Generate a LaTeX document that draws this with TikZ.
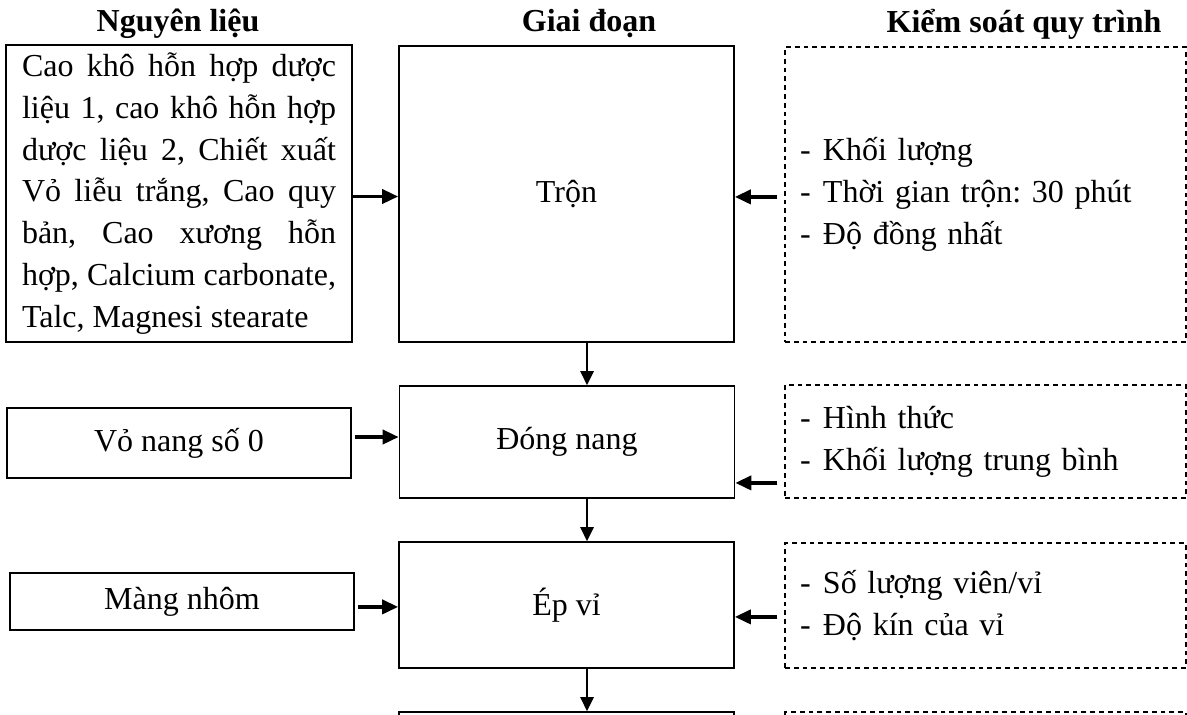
\documentclass[tikz,border=0pt]{standalone}
\usepackage{fontspec}
\setmainfont{Liberation Serif}
\usepackage{tikz}
\usetikzlibrary{arrows.meta,positioning}
\hyphenpenalty=10000
\exhyphenpenalty=10000
\frenchspacing
\newcommand\ksdash{\makebox[11.5pt][l]{-}}
\begin{document}
\begin{tikzpicture}[x=0.5pt,y=-0.5pt]
\tikzstyle{every node}+=[font=\fontsize{16pt}{20.85pt}\selectfont]
\tikzstyle{hdr}=[font=\fontsize{16pt}{20pt}\selectfont\bfseries]
\tikzstyle{stagebox}=[draw,line width=0.8pt,minimum width=167.5pt]
\tikzstyle{inbox}=[draw,line width=0.8pt,minimum width=172pt]
\tikzstyle{ctrlbox}=[draw,line width=0.6pt,dash pattern=on 2.4pt off 2pt,text width=185.5pt,inner xsep=7.5pt,align=left]
\tikzstyle{harr}=[line width=1.8pt,-{Triangle[length=8pt,width=7pt]}]
\tikzstyle{varr}=[line width=1.3pt,-{Triangle[length=7pt,width=6.5pt]}]
\clip (0,0) rectangle (1187,714);
\node[hdr] (hnl) at (178,24) {Nguyên liệu};
\node[hdr] (hgd) at (589,24) {Giai đoạn};
\node[hdr] (hks) at (1024,24) {Kiểm soát quy trình};
\node[inbox,text width=157pt,inner xsep=8pt,align=justify,minimum height=148.5pt] (nl1) at (179,193.5)
  {Cao khô hỗn hợp dược\linebreak liệu 1, cao khô hỗn hợp\linebreak dược liệu 2, Chiết xuất\linebreak Vỏ liễu trắng, Cao quy\linebreak bản, Cao xương hỗn\linebreak hợp, Calcium carbonate,\linebreak Talc, Magnesi stearate};
\node[inbox,minimum height=35pt] (vn) at (179,443) {Vỏ nang số 0};
\node[inbox,minimum height=28.5pt] (mn) at (182,601.5) {Màng nhôm};
\node[stagebox,minimum height=148pt] (tron) at (566.5,194) {Trộn};
\node[stagebox,minimum height=56pt] (dn) at (567,442) {Đóng nang};
\node[stagebox,minimum height=63pt] (ev) at (566.5,605) {Ép vỉ};
\node[stagebox,minimum height=40pt] (stage4) at (566.5,752) {};
\node[ctrlbox,minimum height=147.5pt] (ks1) at (985.5,194.5)
  {\ksdash Khối lượng\\ \ksdash Thời gian trộn: 30 phút\\ \ksdash Độ đồng nhất};
\node[ctrlbox,minimum height=56.5pt] (ks2) at (985.5,441.5)
  {\ksdash Hình thức\\ \ksdash Khối lượng trung bình};
\node[ctrlbox,minimum height=62.5pt] (ks3) at (985.5,605.5)
  {\ksdash Số lượng viên/vỉ\\ \ksdash Độ kín của vỉ};
\node[ctrlbox,minimum height=40pt] (ks4) at (985.5,752) {};
\coordinate (xa) at (587,0);
\draw[harr] ([yshift=-1.5pt]nl1.east) -- ([yshift=-1.5pt]nl1.east -| tron.west);
\draw[harr,shorten <=3.5pt] ([yshift=-1.2pt]ks1.west) -- ([yshift=-1.2pt]ks1.west -| tron.east);
\draw[harr,shorten <=1.5pt] ([yshift=3pt]vn.east) -- ([yshift=3pt]vn.east -| dn.west);
\draw[harr,shorten <=3.5pt] ([yshift=-20.7pt]ks2.west) -- ([yshift=-20.7pt]ks2.west -| dn.east);
\draw[harr,shorten <=1.5pt] ([yshift=-2.7pt]mn.east) -- ([yshift=-2.7pt]mn.east -| ev.west);
\draw[harr,shorten <=3.5pt] ([yshift=-5.7pt]ks3.west) -- ([yshift=-5.7pt]ks3.west -| ev.east);
\draw[varr] (tron.south -| xa) -- (dn.north -| xa);
\draw[varr] (dn.south -| xa) -- (ev.north -| xa);
\draw[varr] (ev.south -| xa) -- (stage4.north -| xa);
\end{tikzpicture}
\end{document}
